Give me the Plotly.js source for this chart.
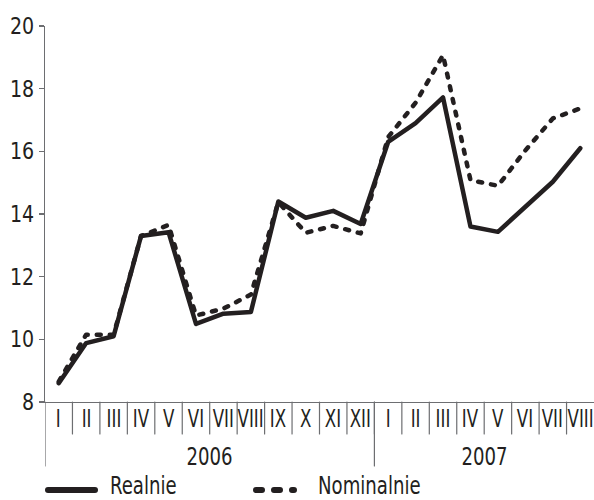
<!DOCTYPE html>
<html>
<head>
<meta charset="utf-8">
<script src="https://cdn.plot.ly/plotly-3.0.1.min.js"></script>
<style>html,body{margin:0;padding:0;background:#fff;}#chart{width:594px;height:500px;}</style>
</head>
<body>
<div id="chart"></div>
<script>
// ---- data ----
const months = ["I","II","III","IV","V","VI","VII","VIII","IX","X","XI","XII",
                "I","II","III","IV","V","VI","VII","VIII"];
const years = ["2006","2007"];
const yearCounts = [12, 8];
const seriesNames = ["Realnie", "Nominalnie"];
const realnie = [8.6, 9.88, 10.1, 13.3, 13.42, 10.49, 10.82, 10.87, 14.4, 13.88, 14.1, 13.68,
                 16.3, 16.9, 17.72, 13.6, 13.43, 14.22, 15.03, 16.1];
const nominalnie = [8.65, 10.15, 10.15, 13.3, 13.65, 10.76, 10.98, 11.43, 14.38, 13.4, 13.62, 13.38,
                    16.45, 17.55, 19.07, 15.08, 14.9, 16.03, 17.05, 17.37];
const yTicks = [8, 10, 12, 14, 16, 18, 20];

// ---- layout helpers ----
const FONT = "'DejaVu Sans Condensed', 'DejaVu Sans', sans-serif";
const INK = "#231f20";
const AXIS = "#6d6e71";
const W = 594, H = 500;
const M = {l: 45, r: 0, t: 26, b: 98};
const plotTop = M.t, plotBottom = H - M.b;
function py(pix) { return (plotBottom - pix) / (plotBottom - plotTop); } // pixel -> paper y
function px(pix) { return (pix - M.l) / (W - M.l - M.r); }               // pixel -> paper x

const xIdx = months.map((_, i) => i);

const traces = [
  {x: xIdx, y: realnie, name: seriesNames[0], type: "scatter", mode: "lines",
   line: {color: INK, width: 4.5}, showlegend: false, hoverinfo: "skip"},
  {x: xIdx, y: nominalnie, name: seriesNames[1], type: "scatter", mode: "lines",
   line: {color: INK, width: 4.5, dash: "4px,9px"}, showlegend: false, hoverinfo: "skip"}
];

const shapes = [];
const annotations = [];

// month separators and labels
for (let i = 0; i < months.length; i++) {
  annotations.push({x: i, y: py(418), xref: "x", yref: "paper", text: months[i], showarrow: false,
    xanchor: "center", yanchor: "middle", font: {family: FONT, size: 25, color: INK}});
  if (i > 0) {
    shapes.push({type: "line", xref: "x", yref: "paper", x0: i - 0.5, x1: i - 0.5,
      y0: 0, y1: py(434), line: {color: AXIS, width: 1.2}});
  }
}
// year dividers and labels
let start = 0;
for (let k = 0; k < years.length; k++) {
  shapes.push({type: "line", xref: "x", yref: "paper", x0: start - 0.5, x1: start - 0.5,
    y0: 0, y1: py(466), line: {color: AXIS, width: 1.2}});
  annotations.push({x: start + (yearCounts[k] - 1) / 2, y: py(457), xref: "x", yref: "paper",
    text: years[k], showarrow: false, xanchor: "center", yanchor: "middle",
    font: {family: FONT, size: 24, color: INK}});
  start += yearCounts[k];
}
// legend (manual)
shapes.push({type: "line", xref: "paper", yref: "paper", x0: px(48), x1: px(95), y0: py(490), y1: py(490),
  line: {color: INK, width: 6}});
shapes.push({type: "line", xref: "paper", yref: "paper", x0: px(256), x1: px(294), y0: py(490), y1: py(490),
  line: {color: INK, width: 6, dash: "6px,12px"}});
annotations.push({x: px(108), y: py(486), xref: "paper", yref: "paper", text: seriesNames[0], showarrow: false,
  xanchor: "left", yanchor: "middle", font: {family: FONT, size: 24, color: INK}});
annotations.push({x: px(316), y: py(486), xref: "paper", yref: "paper", text: seriesNames[1], showarrow: false,
  xanchor: "left", yanchor: "middle", font: {family: FONT, size: 24, color: INK}});

const layout = {
  width: W, height: H,
  margin: M,
  paper_bgcolor: "#fff", plot_bgcolor: "#fff",
  showlegend: false,
  xaxis: {range: [-0.5, months.length - 0.5], showgrid: false, zeroline: false,
    showticklabels: false, ticks: "", showline: true, linecolor: AXIS, linewidth: 1.2, fixedrange: true},
  yaxis: {range: [8, 20], tickvals: yTicks, ticktext: yTicks.map(String), showgrid: false, zeroline: false,
    ticks: "outside", ticklen: 5, tickcolor: AXIS, tickwidth: 1.2, showline: true, linecolor: AXIS, linewidth: 1.2,
    tickfont: {family: FONT, size: 23, color: INK}, fixedrange: true},
  shapes: shapes,
  annotations: annotations
};

// horizontal condensing of text to imitate the narrow typeface of the original
function condense(gd) {
  const monthSet = new Set(months), yearSet = new Set(years), nameSet = new Set(seriesNames),
        tickSet = new Set(yTicks.map(String));
  gd.querySelectorAll("svg text").forEach(t => {
    const s = t.textContent.trim();
    let k = 1, ax = parseFloat(t.getAttribute("x")) || 0;
    if (monthSet.has(s)) k = 0.74;
    else if (yearSet.has(s)) k = 0.84;
    else if (nameSet.has(s)) { k = 0.84; ax = t.getBBox().x; }
    else if (tickSet.has(s)) k = 0.92;
    if (k === 1) return;
    const prev = t.getAttribute("transform") || "";
    t.setAttribute("transform", prev + " translate(" + ax + ",0) scale(" + k + ",1) translate(" + (-ax) + ",0)");
  });
  gd.querySelectorAll(".scatterlayer path.js-line, .shapelayer path").forEach(p => {
    p.style.strokeLinecap = "round";
    p.style.strokeLinejoin = "round";
  });
}

const gd = document.getElementById("chart");
Plotly.newPlot(gd, traces, layout, {staticPlot: true, displayModeBar: false}).then(() => condense(gd));
</script>
</body>
</html>
